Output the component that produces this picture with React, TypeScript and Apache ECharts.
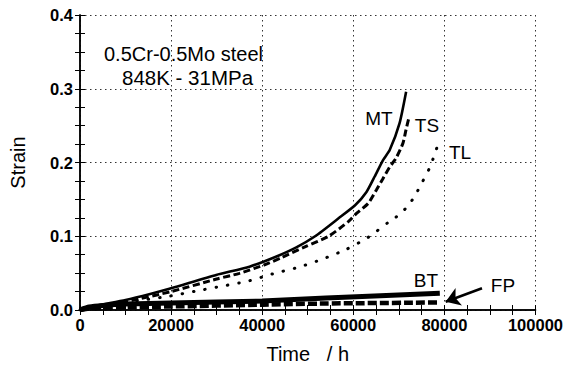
import React, { useEffect, useRef } from "react";
import * as echarts from "echarts";

// Time (h) and strain values
const mtTime = [0, 3000, 10000, 15400, 20000, 29900, 37200, 43000, 47500, 51700, 56700, 60400, 62900, 64700, 66500, 68000, 70150, 71600];
const mtStrain = [0, 0.005, 0.0136, 0.0217, 0.0294, 0.0475, 0.0587, 0.0723, 0.085, 0.1003, 0.124, 0.142, 0.160, 0.181, 0.203, 0.217, 0.253, 0.296];

const tsTime = [0, 10000, 20000, 30000, 35000, 40400, 44400, 49500, 54600, 58900, 60700, 63300, 65100, 66500, 68000, 69400, 70900, 71600, 72300];
const tsStrain = [0, 0.011, 0.025, 0.042, 0.0497, 0.061, 0.0714, 0.086, 0.100, 0.1198, 0.131, 0.1447, 0.163, 0.178, 0.194, 0.206, 0.226, 0.245, 0.263];

const tlTime = [0, 8200, 13900, 19800, 25600, 31300, 36800, 42200, 48000, 53100, 58500, 63300, 67600, 70000, 72200, 73800, 75200, 76700, 77700, 79000];
const tlStrain = [0, 0.0095, 0.0136, 0.019, 0.0258, 0.0325, 0.039, 0.0488, 0.058, 0.0687, 0.0823, 0.0986, 0.1184, 0.1288, 0.1424, 0.158, 0.174, 0.192, 0.208, 0.232];

const btTime = [0, 2000, 5000, 10000, 20000, 40000, 54000, 79000];
const btStrain = [0, 0.004, 0.0062, 0.0081, 0.0095, 0.0122, 0.0163, 0.0226];

const fpTime = [0, 2000, 5000, 10000, 20000, 40000, 54000, 79000];
const fpStrain = [0, 0.002, 0.0028, 0.0035, 0.0048, 0.0072, 0.0088, 0.0102];

// Arrow pointing at FP
const arrowFrom = [88260, 0.0294];
const arrowTo = [80280, 0.0113];

const xTicks = { min: 0, max: 100000, interval: 20000 };
const yTicks = { min: 0, max: 0.4, interval: 0.1 };

const FONT = "'Liberation Sans', Arial, Helvetica, sans-serif";

const zip = (xs: number[], ys: number[]) => xs.map((x, i) => [x, ys[i]]);

export default function App() {
  const ref = useRef<HTMLDivElement>(null);
  useEffect(() => {
    if (!ref.current) return;
    const chart = echarts.init(ref.current, undefined, { renderer: "svg" });
    const axisLine = { show: true, lineStyle: { color: "#000", width: 1.5 } };
    const axisTick = { show: true, inside: true, length: 5, lineStyle: { color: "#000", width: 1 } };
    const minorTick = { show: true, splitNumber: 4, length: 5, lineStyle: { color: "#000", width: 1 } };
    const splitLine = { show: true, lineStyle: { color: "#333", width: 1, type: [1.5, 3.5] } };
    const tickLabel = { color: "#000", fontSize: 16.5, fontWeight: "bold" as const, fontFamily: FONT };
    const lbl = (text: string, x: number, y: number, size = 19, align = "center") => ({
      type: "text",
      x,
      y,
      style: { text, fill: "#000", font: `${size}px ${FONT}`, textAlign: align, textVerticalAlign: "middle" },
    });
    chart.setOption({
      animation: false,
      backgroundColor: "#fff",
      grid: { left: 79, right: 27, top: 15, bottom: 62, containLabel: false },
      xAxis: [
        {
          type: "value",
          ...xTicks,
          position: "bottom",
          name: "Time   / h",
          nameLocation: "middle",
          nameGap: 34,
          nameTextStyle: { color: "#000", fontSize: 20, fontFamily: FONT },
          axisLine,
          axisTick,
          minorTick,
          splitLine,
          axisLabel: { ...tickLabel, margin: 6, formatter: (v: number) => String(v) },
        },
        {
          type: "value",
          ...xTicks,
          position: "top",
          axisLine,
          axisTick,
          minorTick,
          splitLine: { show: false },
          axisLabel: { show: false },
        },
      ],
      yAxis: [
        {
          type: "value",
          ...yTicks,
          position: "left",
          name: "Strain",
          nameLocation: "middle",
          nameGap: 52,
          nameRotate: 90,
          nameTextStyle: { color: "#000", fontSize: 20, fontFamily: FONT },
          axisLine,
          axisTick,
          minorTick,
          splitLine,
          axisLabel: { ...tickLabel, margin: 7, formatter: (v: number) => v.toFixed(1) },
        },
        {
          type: "value",
          ...yTicks,
          position: "right",
          axisLine,
          axisTick,
          minorTick,
          splitLine: { show: false },
          axisLabel: { show: false },
        },
      ],
      series: [
        {
          name: "MT",
          type: "line",
          data: zip(mtTime, mtStrain),
          showSymbol: false,
          smooth: 0.2,
          lineStyle: { color: "#000", width: 2.6 },
          z: 5,
        },
        {
          name: "TS",
          type: "line",
          data: zip(tsTime, tsStrain),
          showSymbol: false,
          smooth: 0.2,
          lineStyle: { color: "#000", width: 3, type: [7, 3.5] },
        },
        {
          name: "TL",
          type: "line",
          data: zip(tlTime, tlStrain),
          showSymbol: false,
          smooth: 0.2,
          lineStyle: { color: "#000", width: 3, type: [0.5, 11], cap: "round" },
        },
        {
          name: "BT",
          type: "line",
          data: zip(btTime, btStrain),
          showSymbol: false,
          smooth: 0.2,
          lineStyle: { color: "#000", width: 5 },
        },
        {
          name: "FP",
          type: "line",
          data: zip(fpTime, fpStrain),
          showSymbol: false,
          smooth: 0.2,
          lineStyle: { color: "#000", width: 4.5, type: [9, 3] },
          markLine: {
            silent: true,
            symbol: ["none", "arrow"],
            symbolSize: 14,
            label: { show: false },
            lineStyle: { color: "#000", width: 2.6, type: "solid" },
            data: [[{ coord: arrowFrom }, { coord: arrowTo }]],
          },
        },
      ],
      graphic: [
        lbl("0.5Cr-0.5Mo steel", 104, 54, 20, "left"),
        lbl("848K - 31MPa", 122, 77, 20.5, "left"),
        lbl("MT", 379, 118),
        lbl("TS", 427, 125),
        lbl("TL", 460, 152),
        lbl("BT", 426, 280),
        lbl("FP", 503, 285),
      ],
    });
    return () => chart.dispose();
  }, []);
  return (
    <div
      ref={ref}
      style={{ position: "fixed", left: 0, top: 0, width: 566, height: 372, background: "#fff" }}
    />
  );
}
